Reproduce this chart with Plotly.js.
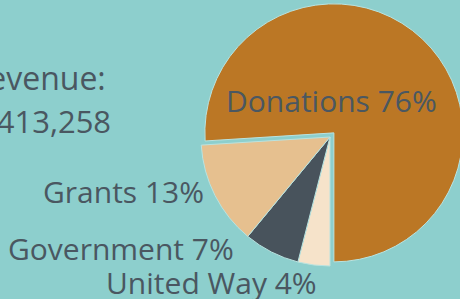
<!DOCTYPE html>
<html>
<head>
<meta charset="utf-8">
<script src="https://cdn.plot.ly/plotly-3.0.1.min.js"></script>
<style>
html,body{margin:0;padding:0;overflow:hidden;background:#8dcfcd;width:460px;height:299px;}
#chart{width:470px;height:299px;}
</style>
</head>
<body>
<div id="chart"></div>
<script>
// Data
var categories = ["United Way", "Government", "Grants", "Donations"];
var shares = [4, 7, 13, 76];
var sliceColors = ["#f6e3ca", "#48535c", "#e6c08f", "#bb7725"];
var pulls = [0, 0, 0, 0.044];
var totalTitle = "Total Revenue:";
var totalValue = "$413,258";

var W = 470, H = 299;
var textColor = "#4a5761";
var fontFam = "'Open Sans', sans-serif";

// label anchors in pixel space (layout only)
var labelPos = {
  "Donations": {x: 331, y: 100, anchor: "center"},
  "Grants": {x: 206, y: 191, anchor: "right"},
  "Government": {x: 236, y: 248, anchor: "right"},
  "United Way": {x: 319, y: 282, anchor: "right"}
};

var annotations = categories.map(function(c, i){
  var p = labelPos[c];
  return {
    xref: "paper", yref: "paper",
    x: p.x / W, y: 1 - p.y / H,
    xanchor: p.anchor, yanchor: "middle",
    text: c + " " + shares[i] + "%",
    showarrow: false,
    font: {family: fontFam, size: 30, color: textColor}
  };
});
annotations.push({
  xref: "paper", yref: "paper", x: 108 / W, y: 1 - 77 / H,
  xanchor: "right", yanchor: "middle", text: totalTitle, showarrow: false,
  font: {family: fontFam, size: 32, color: textColor}
});
annotations.push({
  xref: "paper", yref: "paper", x: 113 / W, y: 1 - 121 / H,
  xanchor: "right", yanchor: "middle", text: totalValue, showarrow: false,
  font: {family: fontFam, size: 31, color: textColor}
});

var cx = 330, cy = 137, half = 134.7;
var trace = {
  type: "pie",
  labels: categories,
  values: shares,
  sort: false,
  direction: "clockwise",
  rotation: 180,
  pull: pulls,
  textinfo: "none",
  hoverinfo: "label+percent",
  marker: {colors: sliceColors, line: {color: "#b9e3e0", width: 1}},
  domain: {x: [(cx - half) / W, (cx + half) / W], y: [1 - (cy + half) / H, 1 - (cy - half) / H]},
  showlegend: false
};

var layout = {
  width: W, height: H,
  margin: {l: 0, r: 0, t: 0, b: 0},
  paper_bgcolor: "#8dcfcd",
  plot_bgcolor: "#8dcfcd",
  showlegend: false,
  annotations: annotations
};

Plotly.newPlot("chart", [trace], layout, {displayModeBar: false, staticPlot: true});
</script>
</body>
</html>
